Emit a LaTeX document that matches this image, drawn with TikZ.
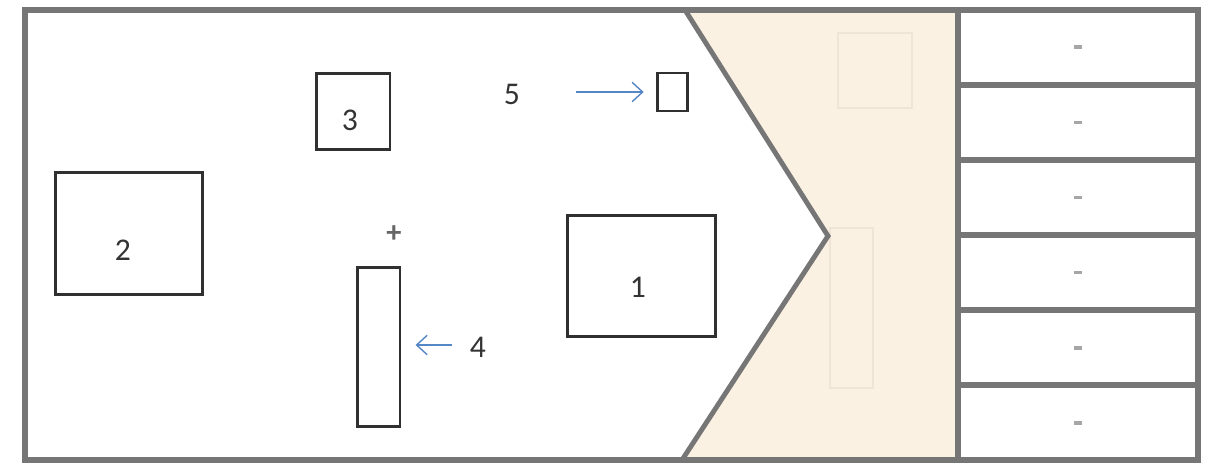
\documentclass[tikz,border=0pt]{standalone}
\usepackage{fontspec}
\setmainfont{Carlito}
\usepackage{xcolor}
\usetikzlibrary{arrows.meta,positioning}

\definecolor{framegray}{RGB}{118,118,118}
\definecolor{boxline}{RGB}{48,48,48}
\definecolor{paper}{RGB}{251,241,226}
\definecolor{ghost}{RGB}{240,228,214}
\definecolor{pointer}{RGB}{85,135,198}

\begin{document}
\begin{tikzpicture}[x=0.02cm, y=-0.02cm,
  box/.style={draw=boxline, line width=1.7pt, fill=white, inner sep=0pt},
  lbl/.style={font=\fontsize{18}{20}\selectfont, text=black!80},
  cell/.style={draw=framegray, line width=3pt, fill=white, minimum width=4.8cm,
    minimum height=1.5cm, inner sep=0pt},
  pointer/.style={draw=pointer, line width=0.8pt, -{Straight Barb[length=6pt,width=11pt]}}
]
\useasboundingbox (0,0) rectangle (1211,466);

% Hatched (beige) area right of the chevron
\fill[paper] (685,10) -- (958,10) -- (958,460) -- (682,460) -- (828,236) -- cycle;
\draw[ghost, line width=0.9pt] (838,33) rectangle (912,108);
\draw[ghost, line width=0.9pt] (830,228) rectangle (873,388);
\draw[framegray, line width=2.8pt, line join=miter] (685,10) -- (828,236) -- (682,460);

% Outer frame
\draw[framegray, line width=3.4pt] (25,10) rectangle (1198,460);

% Side panel with 6 cells
\foreach \c in {0,...,5} {
  \node[cell] (cell\c) at (1078, 47.5+75*\c) {};
  \fill[black!35] ([xshift=-0.08cm,yshift=-0.04cm]cell\c.center) rectangle ([xshift=0.08cm,yshift=0.04cm]cell\c.center);
}

% Boxes
\node[box, minimum width=2.96cm, minimum height=2.46cm] (box2) at (129,233.5) {};
\node[box, minimum width=1.48cm, minimum height=1.54cm] (box3) at (353,111.5) {};
\node[box, minimum width=0.6cm, minimum height=0.76cm] (box5) at (672.5,92) {};
\node[box, minimum width=2.98cm, minimum height=2.44cm] (box1) at (641.5,276) {};
\node[box, minimum width=0.86cm, minimum height=3.2cm] (box4) at (378.5,347) {};

% Labels
\node[lbl] (lbl2) at (123,250) {2};
\node[lbl] (lbl3) at (350,120) {3};
\node[lbl] (lbl1) at (638,287) {1};
\node[lbl] (lbl5) at (512,94) {5};
\node[lbl] (lbl4) at (478,347) {4};
\node[text=black!60, font=\LARGE\bfseries] (plus) at (394,234) {+};

% Pointers
\coordinate (tail5) at (576,92);
\coordinate (tail4) at (452,345);
\draw[pointer, shorten >=7pt] (tail5) -- (box5.west |- tail5);
\draw[pointer, shorten >=8pt] (tail4) -- (box4.east |- tail4);

\end{tikzpicture}
\end{document}
